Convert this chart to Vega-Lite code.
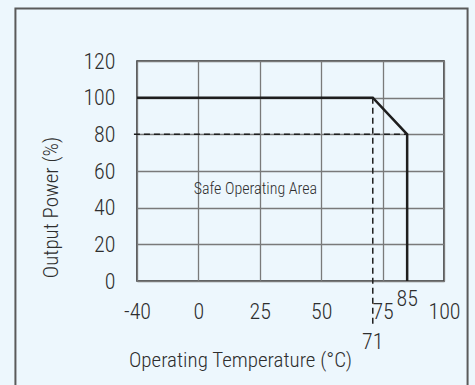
{
  "$schema": "https://vega.github.io/schema/vega-lite/v6.json",
  "width": 307,
  "height": 220,
  "autosize": {"type": "none"},
  "padding": {"left": 137, "top": 61, "right": 31, "bottom": 104},
  "background": "#edf7fd",
  "config": {
    "view": {"stroke": "#2a2a2a", "strokeWidth": 1.5, "fill": "#edf7fd"},
    "font": "Roboto Condensed, Liberation Sans Narrow, DejaVu Sans Condensed, sans-serif",
    "text": {"fontWeight": 300},
    "axis": {
      "domain": false,
      "ticks": false,
      "gridColor": "#7a7a7a",
      "gridWidth": 1.3,
      "gridOpacity": 1,
      "labelFont": "Roboto Condensed, Liberation Sans Narrow, DejaVu Sans Condensed, sans-serif",
      "titleFont": "Roboto Condensed, Liberation Sans Narrow, DejaVu Sans Condensed, sans-serif",
      "labelFontSize": 22,
      "titleFontSize": 21,
      "labelFontWeight": 300,
      "titleFontWeight": 300,
      "labelColor": "#2e2e2e",
      "titleColor": "#2e2e2e",
      "labelOverlap": false,
      "labelExpr": "'' + datum.value"
    }
  },
  "datasets": {
    "curve": [
      {"temp": -40, "power": 100, "step": 1},
      {"temp": 71, "power": 100, "step": 2},
      {"temp": 85, "power": 80, "step": 3},
      {"temp": 85, "power": 0, "step": 4}
    ],
    "guides": [
      {"seg": "h80", "temp": -42, "power": 80},
      {"seg": "h80", "temp": 85, "power": 80},
      {"seg": "v71", "temp": 71, "power": 100},
      {"seg": "v71", "temp": 71, "power": -24}
    ],
    "marks": [
      {"label": "85", "temp": 85, "power": -9.8},
      {"label": "71", "temp": 71, "power": -33.3}
    ],
    "note": [
      {"label": "Safe Operating Area", "temp": 23.2, "power": 50}
    ],
    "frame": [
      {"left": -119.2, "right": 109.6, "top": 148.6, "bottom": -80}
    ]
  },
  "layer": [
    {
      "data": {"name": "curve"},
      "mark": {"type": "line", "color": "#1e1e1e", "strokeWidth": 2.5, "clip": false},
      "encoding": {
        "x": {
          "field": "temp",
          "type": "quantitative",
          "scale": {"domain": [-40, 0, 100], "range": [0, 61.4, 307]},
          "axis": {
            "values": [-40, 0, 25, 50, 75, 100],
            "tickCount": 12,
            "title": "Operating Temperature (°C)",
            "labelPadding": 20,
            "labelFlush": false,
            "labelOverlap": false,
            "titleX": 103,
            "titleY": 79,
            "titleBaseline": "middle",
            "titleAnchor": "middle",
            "titleAlign": "center"
          }
        },
        "y": {
          "field": "power",
          "type": "quantitative",
          "scale": {"domain": [0, 120], "nice": false, "zero": false},
          "axis": {
            "values": [0, 20, 40, 60, 80, 100, 120],
            "tickCount": 12,
            "title": "Output Power (%)",
            "labelPadding": 22,
            "labelFlush": false,
            "labelOverlap": false,
            "labelBound": false,
            "titleX": -86,
            "titleY": 146,
            "titleBaseline": "middle",
            "titleAlign": "center",
            "titleAngle": -90
          }
        },
        "order": {"field": "step"}
      }
    },
    {
      "data": {"name": "guides"},
      "mark": {"type": "line", "color": "#1e1e1e", "strokeWidth": 1.5, "strokeDash": [6, 4], "clip": false},
      "encoding": {
        "x": {"field": "temp", "type": "quantitative"},
        "y": {"field": "power", "type": "quantitative"},
        "detail": {"field": "seg"}
      }
    },
    {
      "data": {"name": "marks"},
      "mark": {"type": "text", "fontSize": 22, "color": "#2e2e2e", "baseline": "middle", "align": "center", "clip": false},
      "encoding": {
        "x": {"field": "temp", "type": "quantitative"},
        "y": {"field": "power", "type": "quantitative"},
        "text": {"field": "label"}
      }
    },
    {
      "data": {"name": "note"},
      "mark": {"type": "text", "fontSize": 16, "color": "#2e2e2e", "baseline": "middle", "align": "center"},
      "encoding": {
        "x": {"field": "temp", "type": "quantitative"},
        "y": {"field": "power", "type": "quantitative"},
        "text": {"field": "label"}
      }
    },
    {
      "data": {"name": "frame"},
      "mark": {"type": "rect", "fill": "transparent", "stroke": "#5a5a5a", "strokeWidth": 2, "clip": false},
      "encoding": {
        "x": {"field": "left", "type": "quantitative"},
        "x2": {"field": "right"},
        "y": {"field": "top", "type": "quantitative"},
        "y2": {"field": "bottom"}
      }
    }
  ]
}
